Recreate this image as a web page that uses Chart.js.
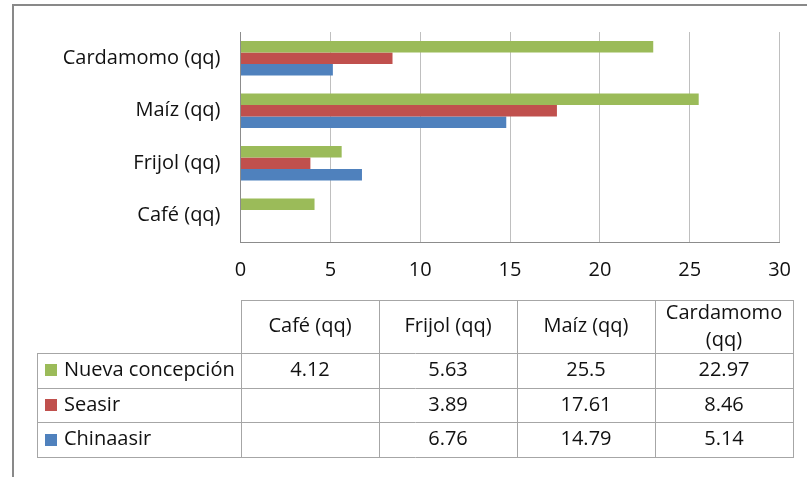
<!DOCTYPE html>
<html>
<head>
<meta charset="utf-8">
<script src="https://cdn.jsdelivr.net/npm/chart.js@4"></script>
<style>
  html, body { margin: 0; padding: 0; background: #fff; }
  #wrap { position: relative; width: 807px; height: 477px; overflow: hidden; }
  #frame { position: absolute; left: 12px; top: 4px; width: 900px; height: 600px;
           border-left: 2px solid #898989; border-top: 2px solid #898989; }
  canvas { position: absolute; left: 0; top: 0; }
</style>
</head>
<body>
<div id="wrap">
  <div id="frame"></div>
  <canvas id="grafico" width="807" height="477"></canvas>
</div>
<script>
const categorias = ["Café (qq)", "Frijol (qq)", "Maíz (qq)", "Cardamomo (qq)"];
const nombresSeries = ["Nueva concepción", "Seasir", "Chinaasir"];
const nuevaConcepcion = [4.12, 5.63, 25.5, 22.97];
const seasir = [null, 3.89, 17.61, 8.46];
const chinaasir = [null, 6.76, 14.79, 5.14];
const colores = ["#9bbb59", "#c0504d", "#4f81bd"];
const ticksX = [0, 5, 10, 15, 20, 25, 30];

const fuente = "'Open Sans', sans-serif";
const tamFuente = 20;

// tabla de datos debajo del grafico (como en Excel)
const tablaDatos = {
  id: "tablaDatos",
  afterDraw(chart) {
    const ctx = chart.ctx;
    const x0 = Math.round(chart.chartArea.left);
    const colW = 138;
    const xLab = 37;
    const top = 300, headH = 53, rowH = 34.7;
    const xEnd = x0 + colW * categorias.length;
    const valores = chart.data.datasets.map(d => d.data);
    const p = v => Math.round(v) + 0.5;

    ctx.save();
    ctx.strokeStyle = "#a6a6a6";
    ctx.lineWidth = 1;
    ctx.beginPath();
    // lineas horizontales
    ctx.moveTo(x0, p(top)); ctx.lineTo(xEnd, p(top));
    for (let i = 0; i <= nombresSeries.length; i++) {
      const y = p(top + headH + i * rowH);
      ctx.moveTo(xLab, y); ctx.lineTo(xEnd + 1, y);
    }
    // lineas verticales
    const yBot = top + headH + nombresSeries.length * rowH;
    ctx.moveTo(p(xLab), top + headH); ctx.lineTo(p(xLab), yBot);
    for (let c = 0; c <= categorias.length; c++) {
      const x = p(x0 + c * colW);
      ctx.moveTo(x, top); ctx.lineTo(x, yBot);
    }
    ctx.stroke();

    ctx.font = tamFuente + "px " + fuente;
    ctx.fillStyle = "#111";
    ctx.textBaseline = "middle";
    ctx.textAlign = "center";
    // encabezados
    categorias.forEach((cat, c) => {
      const cx = x0 + c * colW + colW / 2;
      const cy = top + headH / 2;
      if (ctx.measureText(cat).width > colW - 12) {
        const partes = cat.split(" ");
        ctx.fillText(partes[0], cx, cy - 13);
        ctx.fillText(partes.slice(1).join(" "), cx, cy + 14);
      } else {
        ctx.fillText(cat, cx, cy);
      }
    });
    // filas
    nombresSeries.forEach((nombre, r) => {
      const cy = top + headH + r * rowH + rowH / 2;
      ctx.fillStyle = colores[r];
      ctx.fillRect(xLab + 8, Math.round(cy - 6), 12, 12);
      ctx.fillStyle = "#111";
      ctx.textAlign = "left";
      ctx.fillText(nombre, xLab + 27, cy);
      ctx.textAlign = "center";
      valores[r].forEach((v, c) => {
        if (v === null) return;
        ctx.fillText(String(v), x0 + c * colW + colW / 2, cy);
      });
    });
    ctx.restore();
  }
};

new Chart(document.getElementById("grafico"), {
  type: "bar",
  data: {
    labels: categorias,
    datasets: [
      { label: nombresSeries[0], data: nuevaConcepcion, backgroundColor: colores[0] },
      { label: nombresSeries[1], data: seasir, backgroundColor: colores[1] },
      { label: nombresSeries[2], data: chinaasir, backgroundColor: colores[2] },
    ],
  },
  options: {
    indexAxis: "y",
    responsive: false,
    animation: false,
    categoryPercentage: 0.66,
    barPercentage: 1,
    layout: { padding: { left: 0, right: 26, top: 29, bottom: 195 } },
    scales: {
      x: {
        min: 0,
        max: 30,
        afterBuildTicks: scale => { scale.ticks = ticksX.map(v => ({ value: v })); },
        afterFit: scale => { scale.height = 40; },
        grid: { color: "#bfbfbf", drawTicks: false },
        border: { color: "#8c8c8c" },
        ticks: { color: "#111", padding: 16, font: { family: fuente, size: tamFuente } },
      },
      y: {
        reverse: true,
        afterFit: scale => { scale.width = 240.5; },
        grid: { display: false, drawTicks: false },
        border: { color: "#8c8c8c" },
        ticks: { color: "#111", padding: 20, font: { family: fuente, size: tamFuente } },
      },
    },
    plugins: {
      legend: { display: false },
      tooltip: { enabled: false },
    },
  },
  plugins: [tablaDatos],
});
</script>
</body>
</html>
